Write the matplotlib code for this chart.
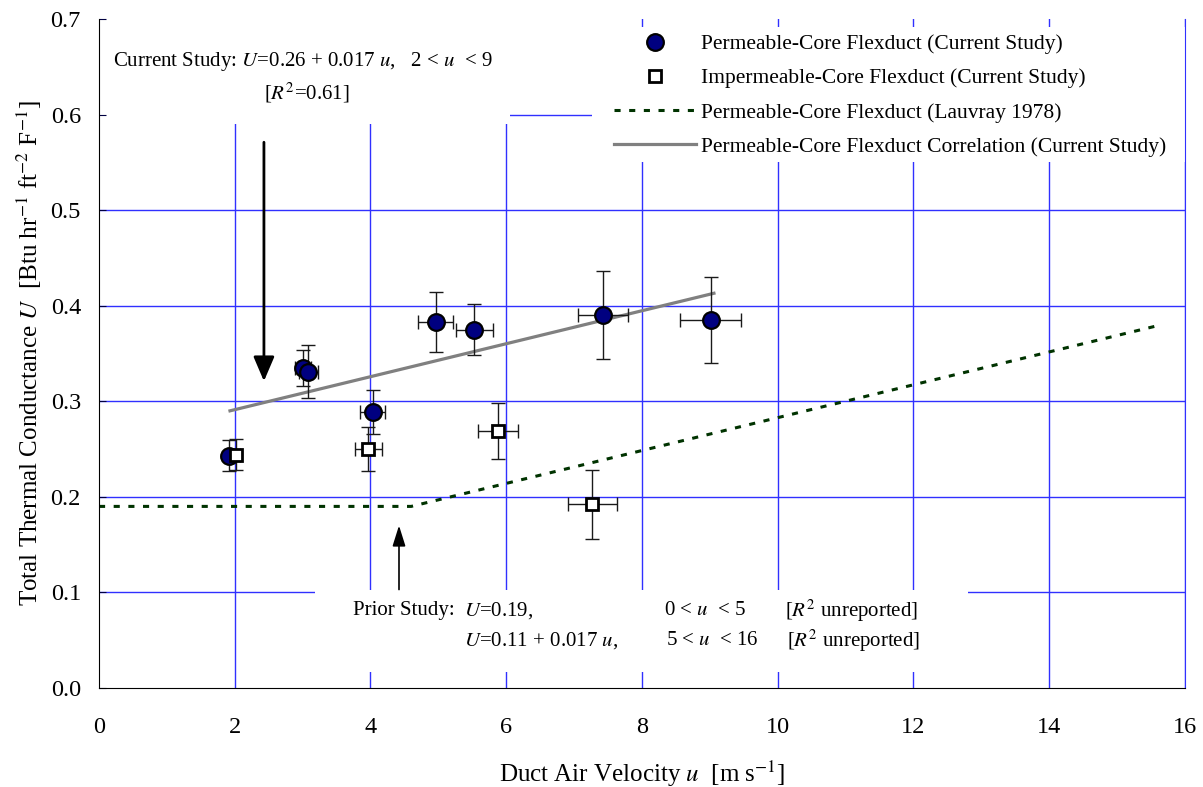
from __future__ import annotations

import matplotlib.pyplot as plt
from matplotlib.patches import Rectangle
import numpy as np

plt.rcParams["font.family"] = ["Liberation Serif", "DejaVu Serif"]
plt.rcParams["mathtext.fontset"] = "stix"

# Permeable-core flexduct (current study)
perm_u = [1.92, 3.01, 3.08, 4.03, 4.96, 5.53, 7.42, 9.01]
perm_U = [0.243, 0.335, 0.331, 0.289, 0.383, 0.375, 0.390, 0.385]
perm_u_err = [0.06, 0.12, 0.14, 0.19, 0.26, 0.27, 0.37, 0.45]
perm_U_err = [0.016, 0.019, 0.028, 0.023, 0.031, 0.027, 0.046, 0.045]

# Impermeable-core flexduct (current study)
imp_u = [2.02, 3.97, 5.88, 7.27]
imp_U = [0.244, 0.250, 0.269, 0.192]
imp_u_err = [0.06, 0.20, 0.30, 0.36]
imp_U_err = [0.016, 0.023, 0.029, 0.036]

# Lauvray 1978 (prior study)
lauvray_u = [0.0, 4.6, 15.65]
lauvray_U = [0.19, 0.19, 0.38]

# correlation (current study)
corr_u = [1.93, 9.06]
corr_U = [0.290, 0.413]

x_ticks = np.arange(0, 17, 2)
y_ticks = np.round(np.arange(0, 0.71, 0.1), 1)

GRID = "#3030ff"
FS = 15
FS_LEG = 15.5
FS_TICK = 17.5
FS_LAB = 18

fig = plt.figure(figsize=(12.03, 7.87), dpi=100)
ax = fig.add_axes([0.0823, 0.1258, 0.9027, 0.8501])
ax.set_xlim(0, 16)
ax.set_ylim(0, 0.7)

for xv in x_ticks[1:]:
    ax.axvline(xv, color=GRID, lw=1.0, zorder=0.5)
for yv in y_ticks[1:-1]:
    ax.axhline(yv, color=GRID, lw=1.0, zorder=0.5)

# white boxes behind the annotations and legend
ax.add_patch(Rectangle((0, 0.59), 6.06, 0.11, facecolor="white", edgecolor="none", zorder=1))
ax.add_patch(Rectangle((7.26, 0.55), 8.74, 0.142, facecolor="white", edgecolor="none", zorder=1))
ax.add_patch(Rectangle((3.18, 0.017), 9.62, 0.086, facecolor="white", edgecolor="none", zorder=1))

ax.plot(lauvray_u, lauvray_U, color="#003300", lw=2.2, dashes=(2.0, 2.8), zorder=2,
        label="Permeable-Core Flexduct (Lauvray 1978)")
ax.plot(corr_u, corr_U, color="#808080", lw=2.3, zorder=2,
        label="Permeable-Core Flexduct Correlation (Current Study)")

ax.errorbar(perm_u, perm_U, xerr=perm_u_err, yerr=perm_U_err, fmt="none",
            ecolor="#1a1a1a", elinewidth=1.0, capsize=5, capthick=1.0, zorder=3)
ax.errorbar(imp_u, imp_U, xerr=imp_u_err, yerr=imp_U_err, fmt="none",
            ecolor="#1a1a1a", elinewidth=1.0, capsize=5, capthick=1.0, zorder=3)
ax.plot(perm_u, perm_U, "o", ms=12, mfc="#000080", mec="black", mew=1.6, ls="none", zorder=4,
        label="Permeable-Core Flexduct (Current Study)")
ax.plot(imp_u, imp_U, "s", ms=8, mfc="white", mec="black", mew=2.0, ls="none", zorder=5,
        label="Impermeable-Core Flexduct (Current Study)")

handles, labels = ax.get_legend_handles_labels()
order = [2, 3, 0, 1]
ax.legend([handles[i] for i in order], [labels[i] for i in order],
          loc="upper left", bbox_to_anchor=(614 / 1203, 1 - 34 / 787),
          bbox_transform=fig.transFigure, frameon=False, fontsize=FS_LEG,
          handlelength=3.8, handletextpad=0.25, labelspacing=0.66, borderpad=0,
          borderaxespad=0)

# annotations
ax.text(0.2, 0.656, "Current Study: $U$=0.26 + 0.017 $u$,   2 < $u$  < 9", fontsize=FS,
        va="center", ha="left", zorder=6)
ax.text(3.06, 0.623, "[$R^2$=0.61]", fontsize=FS, va="center", ha="center", zorder=6)
ax.annotate("", xy=(2.43, 0.321), xytext=(2.43, 0.571),
            arrowprops=dict(arrowstyle="-|>,head_width=0.32,head_length=0.75",
                            color="black", lw=2.0, mutation_scale=20, shrinkA=0, shrinkB=0),
            zorder=6)

y1, y2 = 0.0806, 0.0492
ax.text(5.24, y1, "Prior Study:", fontsize=FS, va="center", ha="right", zorder=6)
ax.text(5.38, y1, "$U$=0.19,", fontsize=FS, va="center", zorder=6)
ax.text(8.32, y1, "0 < $u$  < 5", fontsize=FS, va="center", zorder=6)
ax.text(10.10, y1, "[$R^2$ unreported]", fontsize=FS, va="center", zorder=6)
ax.text(5.38, y2, "$U$=0.11 + 0.017 $u$,", fontsize=FS, va="center", zorder=6)
ax.text(8.35, y2, "5 < $u$  < 16", fontsize=FS, va="center", zorder=6)
ax.text(10.13, y2, "[$R^2$ unreported]", fontsize=FS, va="center", zorder=6)
ax.annotate("", xy=(4.42, 0.17), xytext=(4.42, 0.103),
            arrowprops=dict(arrowstyle="-|>,head_width=0.22,head_length=0.7",
                            color="black", lw=1.2, mutation_scale=18, shrinkA=0, shrinkB=0),
            zorder=6)

ax.set_xticks(x_ticks)
ax.set_yticks(y_ticks)
ax.set_yticklabels([f"{v:.1f}" for v in y_ticks])
ax.tick_params(axis="y", direction="in", length=5, color="#000040", pad=13, labelsize=FS_TICK)
ax.tick_params(axis="x", direction="in", length=0, pad=21, labelsize=FS_TICK)

ax.spines["top"].set_visible(False)
ax.spines["right"].set_color(GRID)
ax.spines["left"].set_color("black")
ax.spines["bottom"].set_color("black")

ax.set_xlabel("Duct Air Velocity $u$  [m s$^{-1}$]", fontsize=FS_LAB, labelpad=15)
ax.set_ylabel("Total Thermal Conductance $U$  [Btu hr$^{-1}$ ft$^{-2}$ F$^{-1}$]",
              fontsize=FS_LAB, labelpad=5)

fig.savefig("out.png", dpi=100)
